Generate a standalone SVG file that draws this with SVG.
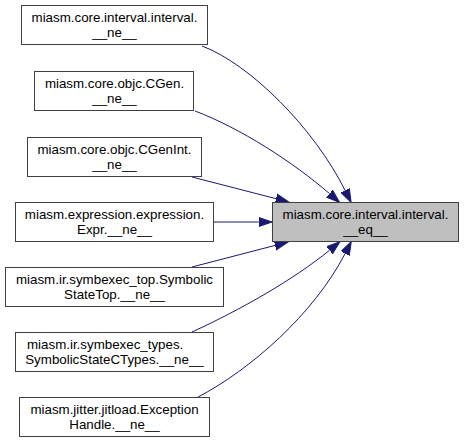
<svg xmlns="http://www.w3.org/2000/svg" width="464" height="444" viewBox="0 0 464 444">
<style>
.n rect{fill:#ffffff;stroke:#404040;stroke-width:1}
.t rect{fill:#bfbfbf;stroke:#404040;stroke-width:1}
text{font-family:"Liberation Sans",Arial,sans-serif;font-size:13.33px;fill:#000000;text-anchor:middle}
.e path{fill:none;stroke:#191970;stroke-width:1}
</style>
<defs>
<marker id="ah" markerUnits="userSpaceOnUse" markerWidth="15" markerHeight="11" refX="0" refY="5" orient="auto" viewBox="0 0 15 10">
<path d="M0,0.4 L13.3,5 L0,9.6 Z" fill="#191970" stroke="#191970" stroke-width="1"/>
</marker>
</defs>
<rect width="464" height="444" fill="#ffffff"/>
<g id="connectors" class="e">
<path d="M202,46 C250,64 314,128 345.2,190.6" marker-end="url(#ah)"/>
<path d="M195,111 C240,128 293,162 329.6,193.7" marker-end="url(#ah)"/>
<path d="M192,177 L276.1,198.7" marker-end="url(#ah)"/>
<path d="M214,222 L258.7,222" marker-end="url(#ah)"/>
<path d="M192,267 L275.1,245.4" marker-end="url(#ah)"/>
<path d="M192,332 C240,310 293,280 329.6,250.2" marker-end="url(#ah)"/>
<path d="M198,397 C250,370 314,314 345.2,253.4" marker-end="url(#ah)"/>
</g>
<g id="node_target" class="t">
<rect x="272.5" y="202.5" width="186" height="39"/>
<text x="365.5" y="219">miasm.core.interval.interval.</text>
<text x="365.5" y="234">__eq__</text>
</g>
<g id="node1" class="n">
<rect x="21.5" y="5.5" width="186" height="39"/>
<text x="114.5" y="22">miasm.core.interval.interval.</text>
<text x="114.5" y="37">__ne__</text>
</g>
<g id="node2" class="n">
<rect x="34.5" y="71.5" width="159" height="39"/>
<text x="114.5" y="88">miasm.core.objc.CGen.</text>
<text x="114.5" y="103">__ne__</text>
</g>
<g id="node3" class="n">
<rect x="27.5" y="137.5" width="174" height="39"/>
<text x="114.5" y="154">miasm.core.objc.CGenInt.</text>
<text x="114.5" y="169">__ne__</text>
</g>
<g id="node4" class="n">
<rect x="15.5" y="202.5" width="198" height="39"/>
<text x="114.5" y="219">miasm.expression.expression.</text>
<text x="114.5" y="234">Expr.__ne__</text>
</g>
<g id="node5" class="n">
<rect x="5.5" y="267.5" width="218" height="39"/>
<text x="114.5" y="284">miasm.ir.symbexec_top.Symbolic</text>
<text x="114.5" y="299">StateTop.__ne__</text>
</g>
<g id="node6" class="n">
<rect x="15.5" y="332.5" width="198" height="39"/>
<text x="27" y="349" style="text-anchor:start">miasm.ir.symbexec_types.</text>
<text x="114.5" y="364">SymbolicStateCTypes.__ne__</text>
</g>
<g id="node7" class="n">
<rect x="19.5" y="397.5" width="190" height="39"/>
<text x="114.5" y="414">miasm.jitter.jitload.Exception</text>
<text x="114.5" y="429">Handle.__ne__</text>
</g>
</svg>
